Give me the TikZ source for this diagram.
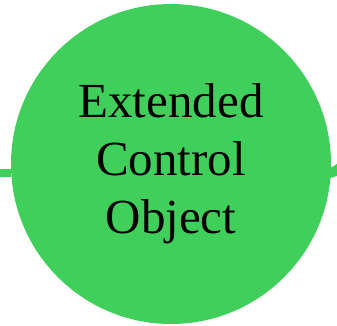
\documentclass[tikz,border=0pt]{standalone}
\usepackage{fontspec}
\setmainfont{Liberation Serif}
\usetikzlibrary{positioning}
\definecolor{objgreen}{RGB}{64,207,90}

\begin{document}
\begin{tikzpicture}[x=1pt, y=1pt,
    objnode/.style={circle, fill=objgreen, minimum size=320pt, inner sep=0pt,
                    align=center, font=\fontsize{49}{58}\selectfont},
    flow/.style={objgreen, line width=8pt}]
  \useasboundingbox (0,0) rectangle (337,325);
  \node[objnode] (ctrl) at (171,161) {Extended\\Control\\Object};
  \coordinate (inL) at (-2,152);
  \coordinate (outR) at (345,165);
  \draw[flow] (inL) -- (ctrl.west |- inL) ++(6,0);
  \draw[flow, line width=10pt] (ctrl.east) ++(-6,-10) to[out=10, in=250] (outR);
\end{tikzpicture}
\end{document}
